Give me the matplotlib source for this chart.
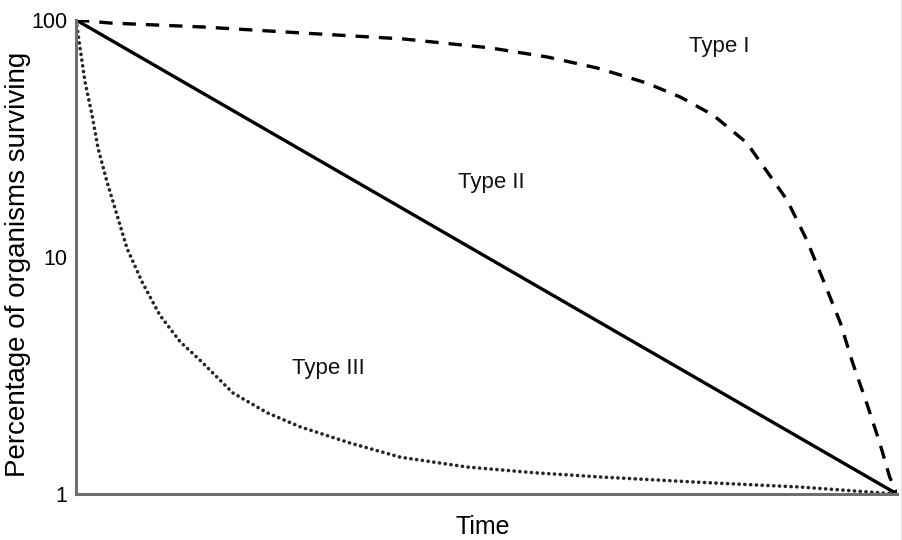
# survivorship curves
# log scale of percentage surviving vs time

from matplotlib import pyplot as plt
from matplotlib.lines import Line2D

plt.rcParams['font.family'] = ['Liberation Sans', 'DejaVu Sans']

# time goes from 0 to 100 (no units shown)
type1_time = [0, 4.1, 15.5, 27.6, 39.8, 50.4, 57.4, 63.5, 69.5, 73.6, 77.6, 81.7,
              84.9, 86.6, 89.0, 91.0, 93.1, 94.6, 96.3, 97.9, 99.1, 100]
type1_pct = [100, 97.1, 93.4, 88.1, 83.2, 76.3, 69.8, 62.7, 54.2, 47.3, 39.7, 30.3,
             21.1, 17.4, 11.8, 8.0, 5.27, 3.57, 2.42, 1.64, 1.18, 1]

type2_time = [0, 100]
type2_pct = [100, 1]

type3_time = [0, 0.49, 1.1, 1.95, 2.68, 3.78, 5.0, 6.2, 8.04, 10.2, 12.7, 15.1,
              19.1, 23.3, 27.3, 33.4, 39.5, 47.6, 55.7, 63.8, 76.0, 88.2, 100]
type3_pct = [100, 76.2, 54.7, 39.7, 28.8, 20.7, 15.0, 10.9, 7.85, 5.69, 4.38, 3.67,
             2.67, 2.20, 1.92, 1.64, 1.43, 1.30, 1.23, 1.18, 1.12, 1.07, 1]

labels = ["Type I", "Type II", "Type III"]
label_pos = [(78.4, 77.6), (50.6, 20.7), (30.7, 3.4)]

yticks = [1, 10, 100]

fig = plt.figure(figsize=(9.03, 5.40), dpi=100)
ax = fig.add_axes([0.0842, 0.0852, 0.9092, 0.8778])

ax.plot(type1_time, type1_pct, color='black', lw=2.4, linestyle=(0, (4, 3)))
ax.plot(type2_time, type2_pct, color='black', lw=2.4)
ax.plot(type3_time, type3_pct, color='#262626', lw=2.6, linestyle=(0, (0.05, 1.55)),
        dash_capstyle='round')

for txt, (x, y) in zip(labels, label_pos):
    ax.text(x, y, txt, fontsize=16, ha='center', va='center', color='#111111')

ax.set_yscale('log')
ax.set_xlim(0, 100)
ax.set_ylim(1, 100)
ax.set_yticks(yticks)
ax.set_yticklabels([str(v) for v in yticks])
ax.yaxis.set_minor_locator(plt.NullLocator())
ax.set_xticks([])
ax.tick_params(axis='y', length=0, pad=6, labelsize=15.5)

for s in ['top', 'right']:
    ax.spines[s].set_visible(False)
for s in ['left', 'bottom']:
    ax.spines[s].set_color('#6e6e6e')
    ax.spines[s].set_linewidth(2.2)

ax.set_xlabel("Time", fontsize=18)
ax.xaxis.set_label_coords(0.495, -0.044)
ax.set_ylabel("Percentage of organisms surviving", fontsize=20)
ax.yaxis.set_label_coords(-0.055, 0.485)

# faint border at the right edge of the picture
fig.add_artist(Line2D([0.9985, 0.9985], [0, 1], color='#e2e2e2', lw=1.2))

plt.savefig("out.png", dpi=100)
